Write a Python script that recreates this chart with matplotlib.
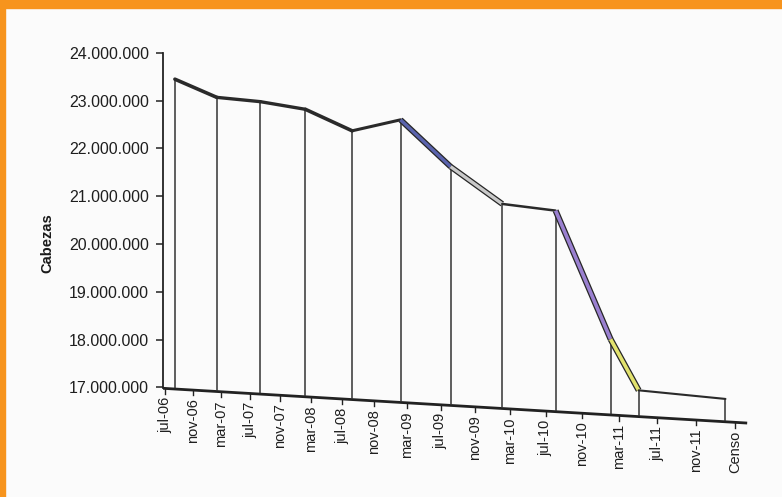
import numpy as np
import matplotlib
matplotlib.use('Agg')
import matplotlib.pyplot as plt
from matplotlib import transforms
import matplotlib.patheffects as pe
from matplotlib.patches import Rectangle
from matplotlib.ticker import FuncFormatter, NullLocator

plt.rcParams['font.family'] = ['Liberation Sans', 'DejaVu Sans']

# etiquetas del eje x (cada 4 meses)
etiquetas_x = ['jul-06', 'nov-06', 'mar-07', 'jul-07', 'nov-07', 'mar-08',
               'jul-08', 'nov-08', 'mar-09', 'jul-09', 'nov-09', 'mar-10',
               'jul-10', 'nov-10', 'mar-11', 'jul-11', 'nov-11', 'Censo']

# datos: meses desde jul-06 y cabezas
periodos = ['jul-06', 'ene-07', 'jul-07', 'ene-08', 'jul-08', 'ene-09',
            'jul-09', 'ene-10', 'jul-10', 'ene-11', 'abr-11', 'Censo']
meses = [0, 6, 12, 18, 24, 30, 36, 42, 48, 54, 57, 66]
cabezas = [23450000, 23070000, 22980000, 22820000, 22370000, 22600000,
           21620000, 20840000, 20700000, 18010000, 16940000, 16760000]
colores_tramo = ['#2a2a2a', '#2a2a2a', '#2a2a2a', '#2a2a2a', '#2a2a2a',
                 '#5a63ad', '#c9c9c9', '#2a2a2a', '#9a80d0', '#e2e26e', '#2a2a2a']
grosor_tramo = [2.6, 2.4, 2.4, 2.6, 2.2, 2.4, 2.4, 1.8, 2.6, 2.6, 1.5]

x = np.array(meses) / 4.0

# perspectiva suave en el eje x
K = 0.01333


def fwd(v):
    v = np.asarray(v, float)
    return v + K * v * v


def inv(u):
    u = np.asarray(u, float)
    return (-1 + np.sqrt(np.maximum(1 + 4 * K * u, 0))) / (2 * K)


F0, F17 = fwd(0), fwd(17)


def piso(v):
    # suelo inclinado del grafico 3D
    return 16.98e6 - 0.71e6 * (fwd(v) - F0) / (F17 - F0)


fig = plt.figure(figsize=(7.82, 4.97), dpi=100)
fig.patch.set_facecolor('#fbfbfb')
ax = fig.add_axes([163 / 782, 67 / 497, 597 / 782, 390 / 497])
ax.set_xscale('function', functions=(fwd, inv))
ax.set_xlim(-0.07, 17.62)
ax.set_ylim(16.11e6, 24.27e6)
ax.patch.set_alpha(0)
for s in ['top', 'right', 'bottom']:
    ax.spines[s].set_visible(False)
ax.spines['left'].set_bounds(float(piso(-0.07)), 24e6)
ax.spines['left'].set_color('#222222')
ax.spines['left'].set_linewidth(1.3)

ax.set_yticks(np.arange(17e6, 24.1e6, 1e6))
ax.yaxis.set_major_formatter(FuncFormatter(lambda v, p: f'{int(round(v)):,}'.replace(',', '.')))
ax.tick_params(axis='y', length=5, width=1.1, color='#222222', labelsize=11.5,
               labelcolor='#1e1e1e', pad=5)
ax.set_xticks([])
ax.xaxis.set_minor_locator(NullLocator())

fig.text(47 / 782, 0.511, 'Cabezas', rotation=90, ha='center', va='center',
         fontsize=10.5, fontweight='bold', color='#1a1a1a')

# suelo y marcas del eje x
xs = np.linspace(-0.07, 17.3, 60)
ax.plot(xs, piso(xs), color='#222222', lw=2.0, solid_capstyle='butt')
for i, lab in enumerate(etiquetas_x):
    ax.plot([i, i], [piso(i), piso(i) - 0.11e6], color='#222222', lw=1)
    ax.annotate(lab, (i, piso(i)), xytext=(0, -6), textcoords='offset points',
                rotation=90, ha='center', va='top', fontsize=10.5, color='#1e1e1e')

# serie desplazada (profundidad 3D)
trans = ax.transData + transforms.ScaledTranslation(0.10, 0, fig.dpi_scale_trans)
ax.vlines(x, piso(x), cabezas, colors='#333333', lw=1.1, transform=trans)
for i in range(len(x) - 1):
    c = colores_tramo[i]
    if c == '#2a2a2a':
        ax.plot(x[i:i + 2], cabezas[i:i + 2], color=c, lw=grosor_tramo[i],
                transform=trans, solid_capstyle='round')
    else:
        ax.plot(x[i:i + 2], cabezas[i:i + 2], color=c, lw=grosor_tramo[i],
                transform=trans, solid_capstyle='butt',
                path_effects=[pe.Stroke(linewidth=grosor_tramo[i] + 1.8, foreground='#262626'),
                              pe.Normal()])

# marco naranja
fig.patches.append(Rectangle((0, 1 - 8 / 497), 1, 8 / 497, transform=fig.transFigure,
                             color='#f7941d', zorder=5))
fig.patches.append(Rectangle((0, 0), 5 / 782, 1, transform=fig.transFigure,
                             color='#f7941d', zorder=5))

fig.savefig('out.png', dpi=100, facecolor=fig.get_facecolor())
